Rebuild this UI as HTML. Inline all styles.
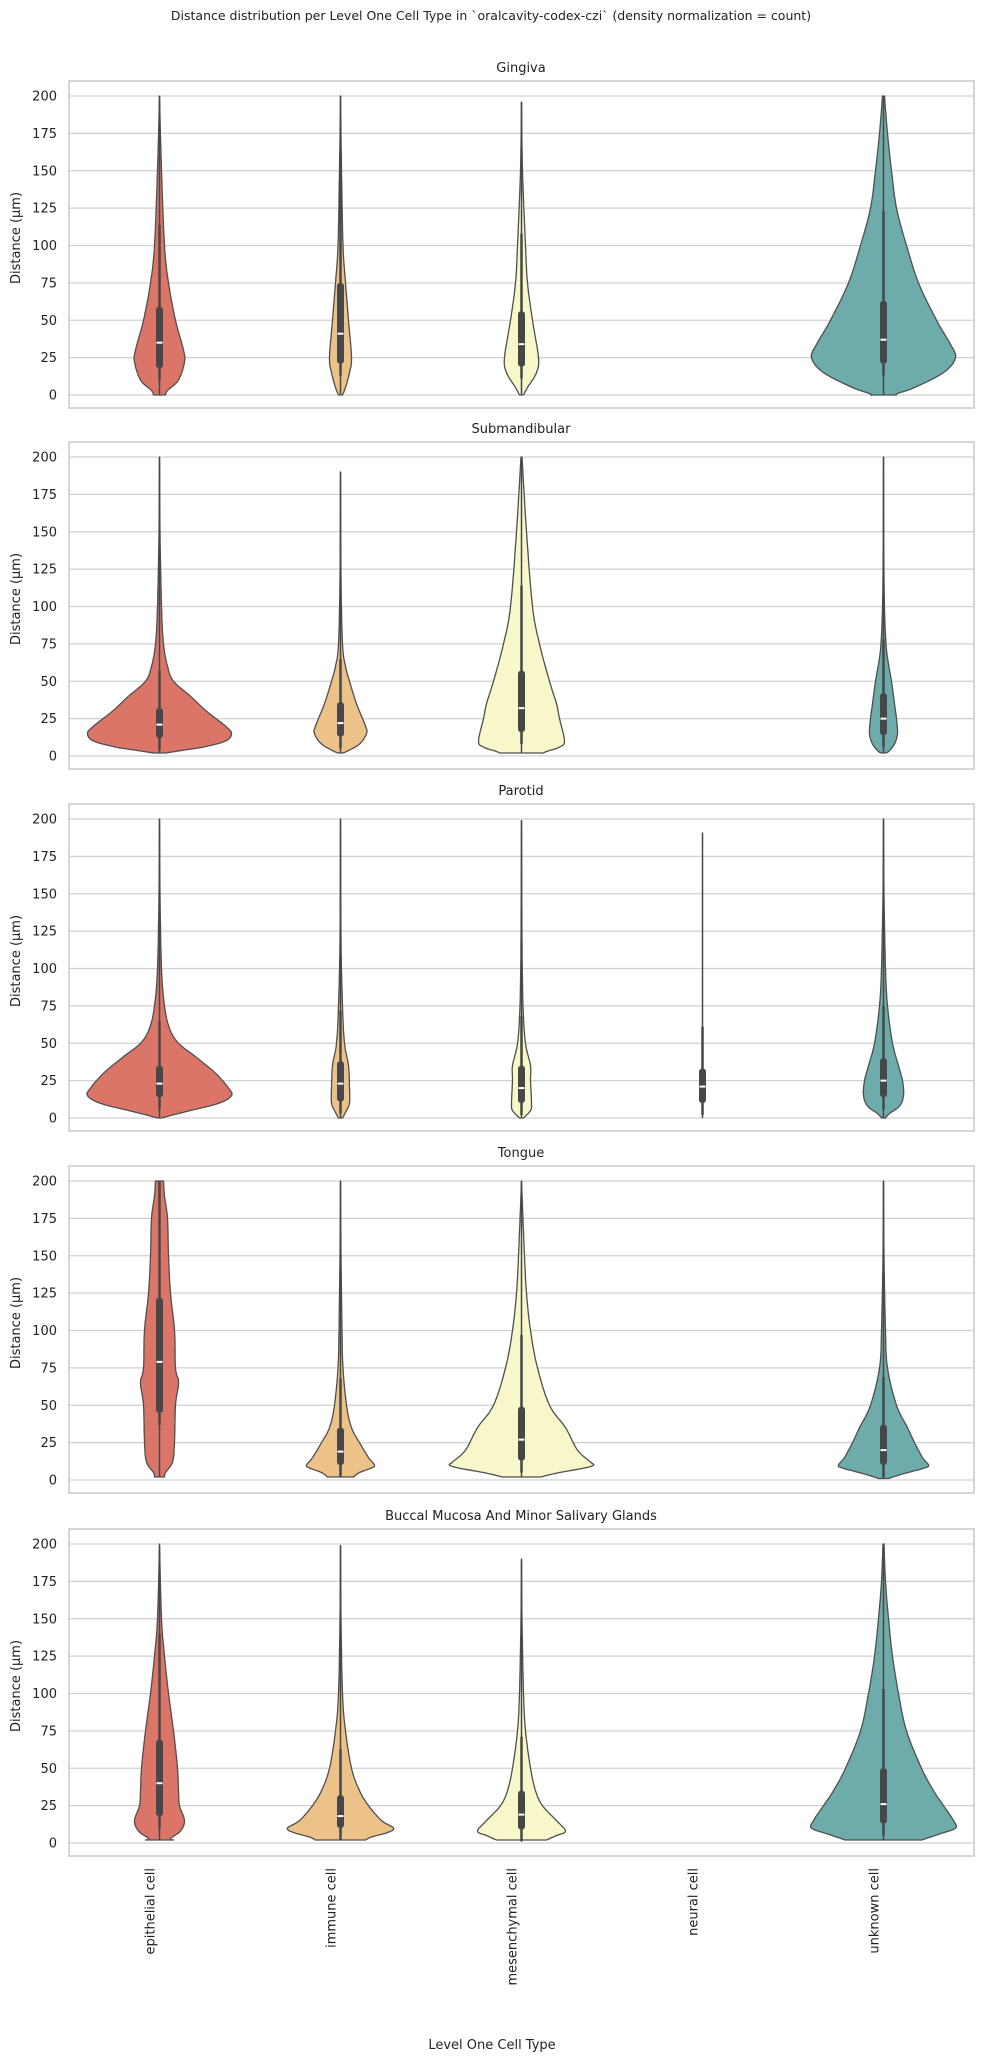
<!DOCTYPE html>
<html><head><meta charset="utf-8"><style>
html,body{margin:0;padding:0;background:#fff;}
svg{display:block;font-family:"DejaVu Sans","Liberation Sans",sans-serif;}
</style></head><body>
<svg id="s" width="984" height="2060" xmlns="http://www.w3.org/2000/svg">
<text x="491" y="20" font-size="12.5" text-anchor="middle" fill="#222">Distance distribution per Level One Cell Type in `oralcavity-codex-czi` (density normalization = count)</text>
<text x="492" y="2049" font-size="13" text-anchor="middle" fill="#222">Level One Cell Type</text>
<g id="g"></g>
</svg>
<script>
const NS="http://www.w3.org/2000/svg";
const g=document.getElementById('g');
function el(t,a,txt){const e=document.createElementNS(NS,t);for(const k in a)e.setAttribute(k,a[k]);if(txt!==undefined)e.textContent=txt;g.appendChild(e);return e;}
const L=69,R=974,tops=[81,442,804,1166,1529],H=327,PX=1.495;
const cx=k=>L+90.5+181*k;
const cols=['#da7568','#edc288','#f7f7c9','#6dacaa'];
const titles=['Gingiva','Submandibular','Parotid','Tongue','Buccal Mucosa And Minor Salivary Glands'];
// [catIndex, colorIndex, profile [[v,hw]...], q1,q3,med,whiskerTop,lineTop]
const data=[
[[0,0,[[0,6],[3,8],[10,19],[22,25],[30,24],[50,16],[75,9],[100,5],[150,2],[200,0]],18,59,35,114,200],
 [1,1,[[0,2],[5,5],[15,9],[25,11],[50,8],[75,5],[100,2.5],[150,1],[200,0]],21,75,41,150,200],
 [2,2,[[0,2],[5,6],[15,15],[25,17],[50,11],[75,6],[100,4],[150,1],[196,0]],19,56,34,108,196],
 [4,3,[[0,13],[1,14],[5,31],[15,60],[25,72],[35,66],[50,53],[75,35],[100,23],[125,13],[150,8],[175,4],[200,1]],21,63,37,123,200]],
[[0,0,[[2,6],[4,25],[6,44],[10,66],[15,72],[20,66],[30,47],[40,31],[50,14],[60,8],[75,4],[100,2],[150,0.5],[200,0]],12,32,21,57,200],
 [1,1,[[2,2],[3,6],[8,19],[15,26],[20,25],[35,16],[50,9],[60,5],[75,2],[120,0.5],[190,0]],13,36,22,65,190],
 [2,2,[[2,22],[3,25],[6,38],[10,43],[25,38],[35,35],[50,28],[75,18],[100,11],[150,5],[200,0.5]],16,57,32,114,200],
 [4,3,[[2,2],[3,5],[8,11],[15,14],[25,13],[35,11],[50,8],[75,2.5],[120,0.5],[200,0]],14,42,25,78,200]],
[[0,0,[[0,2],[2,13],[5,31],[10,60],[15,72],[20,69],[30,56],[40,38],[50,19],[60,10],[75,5],[100,2],[150,0.5],[200,0]],14,35,23,65,200],
 [1,1,[[0,2],[5,6],[10,9],[20,9],[35,8],[50,4],[75,2],[120,0.5],[200,0]],11,38,23,72,200],
 [2,2,[[0,2],[5,9],[10,10],[25,9],[35,9],[50,4],[75,1.5],[120,0.5],[199,0]],10,35,20,68,199],
 [3,0,null,10,33,21,61,191],
 [4,3,[[0,2],[3,6],[8,16],[15,20],[25,19],[35,15],[50,9],[75,4],[100,2],[150,0.5],[200,0]],14,40,25,75,200]],
[[0,0,[[2,5],[5,6],[12,13],[25,15],[50,16],[65,19],[75,16],[100,15],[125,11],[150,9],[175,8],[190,5],[200,4]],45,122,79,200,200],
 [1,1,[[2,13],[5,19],[8,31],[10,34],[15,28],[25,19],[35,11],[50,6],[75,2.5],[100,1.5],[150,0.5],[200,0]],10,35,19,68,200],
 [2,2,[[2,19],[5,38],[8,63],[10,72],[12,69],[20,56],[35,44],[50,28],[75,16],[100,9],[125,5],[150,3],[200,0]],13,49,27,97,200],
 [4,3,[[1,5],[4,19],[8,41],[10,45],[15,39],[25,31],[35,24],[50,13],[75,4],[100,2],[150,0.5],[200,0]],10,37,20,69,200]],
[[0,0,[[2,14],[3,11],[8,21],[15,25],[25,20],[35,19],[50,18],[75,14],[100,9],[125,5],[150,2],[200,0]],18,69,40,140,199],
 [1,1,[[2,25],[4,31],[7,47],[10,53],[15,41],[25,28],[35,19],[50,11],[75,5],[100,2],[150,0.5],[199,0]],10,32,18,63,199],
 [2,2,[[2,25],[5,35],[8,44],[15,35],[25,21],[35,14],[50,9],[75,4],[100,2],[150,0.5],[190,0]],9,35,19,71,190],
 [4,3,[[2,38],[6,56],[10,72],[15,70],[25,60],[35,50],[50,38],[75,23],[100,15],[125,9],[150,5],[175,2],[200,0.5]],13,50,26,103,200]]
];
function interp(p){const out=[];for(let i=0;i<p.length-1;i++){const p0=p[Math.max(0,i-1)],p1=p[i],p2=p[i+1],p3=p[Math.min(p.length-1,i+2)];
 for(let t=0;t<1;t+=0.1){const t2=t*t,t3=t2*t;const f=(a,b,c,d)=>0.5*(2*b+(-a+c)*t+(2*a-5*b+4*c-d)*t2+(-a+3*b-3*c+d)*t3);
 out.push([f(p0[0],p1[0],p2[0],p3[0]),Math.max(0,f(p0[1],p1[1],p2[1],p3[1]))]);}}out.push(p[p.length-1]);return out;}
tops.forEach((T,i)=>{
 const y=v=>T+314-v*PX;
 el('text',{x:521,y:T-9,'font-size':13,'text-anchor':'middle',fill:'#222'},titles[i]);
 for(let v=0;v<=200;v+=25){el('line',{x1:L,x2:R,y1:y(v),y2:y(v),stroke:'#d0d0d0','stroke-width':1.2});
  el('text',{x:57,y:y(v)+4.5,'font-size':13,'text-anchor':'end',fill:'#222'},v);}
 el('rect',{x:L,y:T,width:R-L,height:H,fill:'none',stroke:'#cccccc','stroke-width':1.6});
 el('text',{x:0,y:0,'font-size':13,'text-anchor':'middle',fill:'#222',transform:`translate(20,${T+157}) rotate(-90)`},'Distance (µm)');
 data[i].forEach(d=>{const [k,c,prof,q1,q3,med,wt,lt]=d;const x=cx(k);
  if(prof){const pts=interp(prof);let s='M'+pts.map(p=>(x-p[1]).toFixed(1)+','+y(p[0]).toFixed(1)).join('L');
   s+='L'+pts.slice().reverse().map(p=>(x+p[1]).toFixed(1)+','+y(p[0]).toFixed(1)).join('L')+'Z';
   el('path',{d:s,fill:cols[c],stroke:'#4f4f4f','stroke-width':1.3,'stroke-linejoin':'round'});}
  el('line',{x1:x,x2:x,y1:y(lt),y2:y(prof?prof[0][0]:0),stroke:'#474747','stroke-width':1.5});
  el('line',{x1:x,x2:x,y1:y(wt),y2:y(Math.max(0,q1-8)),stroke:'#474747','stroke-width':2.5});
  el('rect',{x:x-3.5,y:y(q3),width:7,height:(q3-q1)*PX,rx:3,fill:'#474747'});
  el('rect',{x:x-3,y:y(med)-1,width:6,height:2,fill:'#fff'});
 });
});
const labs=['epithelial cell','immune cell','mesenchymal cell','neural cell','unknown cell'];
labs.forEach((t,k)=>{el('text',{x:0,y:0,'font-size':13,'text-anchor':'end',fill:'#222',transform:`translate(${cx(k)-5},1868) rotate(-90)`},t);});
</script>
</body></html>
